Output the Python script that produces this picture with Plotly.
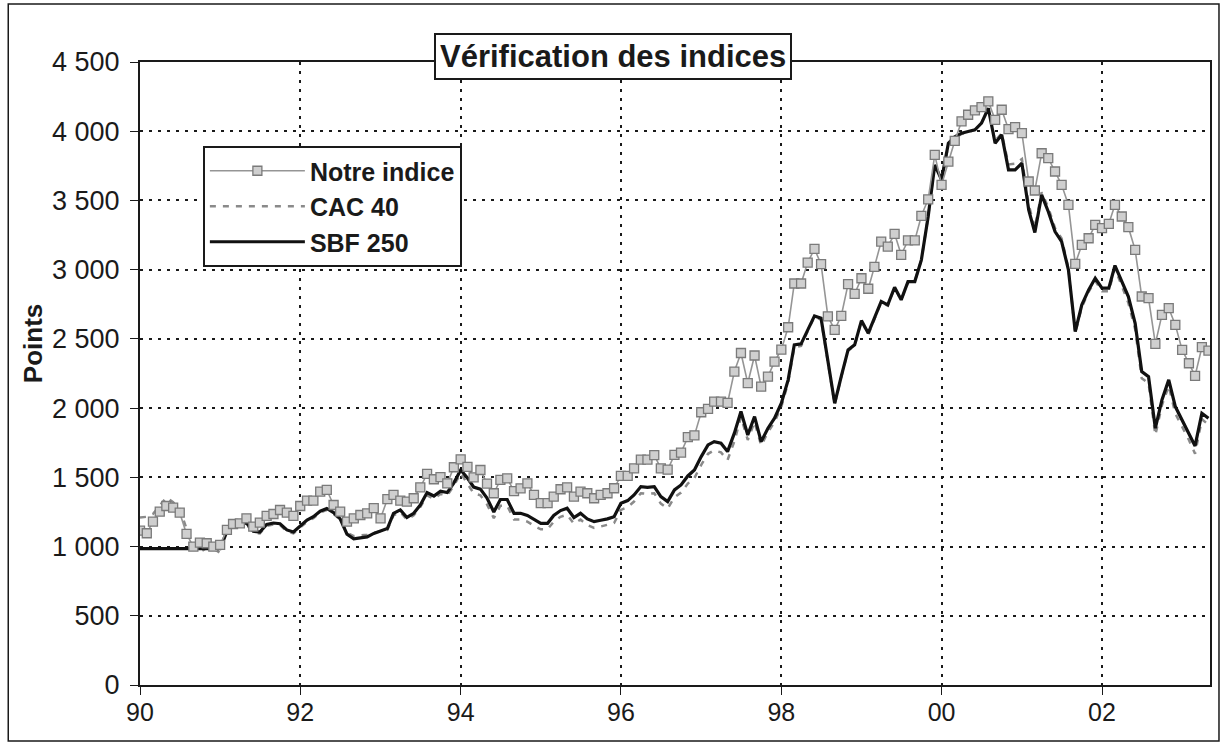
import plotly.graph_objects as go
import pandas as pd

# Monthly values, Jan 1990 .. May 2003
notre_indice = [
    1115, 1096, 1180, 1252, 1293, 1281, 1245, 1091, 999, 1028, 1024, 999, 1012,
    1120, 1163, 1168, 1204, 1144, 1173, 1221, 1235, 1264, 1245, 1221, 1293,
    1332, 1332, 1397, 1409, 1300, 1252, 1180, 1204, 1228, 1240, 1277, 1204,
    1342, 1373, 1332, 1325, 1349, 1428, 1525, 1486, 1501, 1457, 1573, 1630,
    1575, 1500, 1553, 1455, 1385, 1481, 1493, 1400, 1420, 1457, 1373, 1313,
    1313, 1361, 1414, 1428, 1361, 1397, 1385, 1349, 1373, 1385, 1421, 1510,
    1510, 1565, 1628, 1628, 1660, 1565, 1555, 1662, 1679, 1790, 1803, 1970,
    1995, 2047, 2047, 2038, 2264, 2398, 2180, 2380, 2155, 2227, 2336, 2422,
    2584, 2900, 2900, 3051, 3150, 3040, 2663, 2565, 2666, 2895, 2825, 2938,
    2862, 3020, 3203, 3167, 3259, 3107, 3211, 3211, 3389, 3508, 3829, 3613,
    3781, 3930, 4071, 4119, 4150, 4174, 4215, 4082, 4155, 4015, 4029, 3986,
    3637, 3572, 3841, 3805, 3709, 3613, 3468, 3042, 3179, 3227, 3324, 3300,
    3331, 3468, 3384, 3307, 3143, 2806, 2794, 2464, 2673, 2722, 2601, 2420,
    2324, 2233, 2440, 2415,
]

cac_40 = [
    1210, 1215, 1235, 1300, 1355, 1320, 1270, 1130, 1000, 960, 990, 985, 955,
    1095, 1140, 1150, 1160, 1100, 1095, 1150, 1160, 1155, 1110, 1095, 1140,
    1180, 1205, 1245, 1265, 1235, 1195, 1100, 1075, 1080, 1085, 1100, 1110,
    1120, 1225, 1250, 1195, 1225, 1285, 1370, 1345, 1380, 1370, 1440, 1530,
    1455, 1385, 1370, 1305, 1205, 1295, 1295, 1195, 1195, 1180, 1150, 1125,
    1125, 1180, 1215, 1230, 1165, 1195, 1155, 1135, 1145, 1155, 1170, 1265,
    1285, 1325, 1385, 1380, 1385, 1310, 1275, 1355, 1390, 1455, 1495, 1590,
    1670, 1695, 1680, 1625, 1760, 1935, 1770, 1900, 1730, 1825, 1900, 2010,
    2185, 2440, 2450, 2555, 2660, 2640, 2330, 2025, 2225, 2415, 2450, 2630,
    2530, 2645, 2765, 2740, 2870, 2780, 2910, 2915, 3070, 3385, 3760, 3650,
    3900, 3950, 3980, 3995, 4010, 4060, 4160, 3930, 3985, 3760, 3765, 3800,
    3470, 3300, 3560, 3450, 3300, 3225, 3010, 2540, 2730, 2840, 2920, 2845,
    2845, 3010, 2880, 2760, 2570, 2215, 2180, 1805, 2020, 2160, 1960, 1870,
    1770, 1670, 1920, 1880,
]

sbf_250 = [
    985, 985, 985, 985, 985, 985, 985, 985, 985, 985, 985, 985, 985,
    1110, 1150, 1160, 1170, 1110, 1105, 1160, 1170, 1165, 1120, 1105, 1150,
    1192, 1216, 1255, 1275, 1245, 1200, 1090, 1055, 1060, 1070, 1095, 1115,
    1130, 1240, 1265, 1210, 1240, 1300, 1390, 1365, 1400, 1390, 1460, 1553,
    1495, 1430, 1415, 1350, 1250, 1340, 1340, 1240, 1240, 1225, 1195, 1168,
    1168, 1225, 1260, 1277, 1210, 1240, 1200, 1180, 1190, 1200, 1216, 1313,
    1332, 1373, 1433, 1428, 1433, 1361, 1325, 1409, 1445, 1510, 1553, 1650,
    1734, 1758, 1746, 1686, 1819, 1975, 1806, 1939, 1758, 1855, 1927, 2035,
    2204, 2457, 2464, 2565, 2666, 2649, 2340, 2035, 2230, 2420, 2457, 2632,
    2541, 2650, 2770, 2746, 2873, 2782, 2914, 2914, 3071, 3384, 3757, 3649,
    3913, 3960, 3986, 3998, 4010, 4058, 4166, 3913, 3974, 3721, 3721, 3769,
    3432, 3268, 3540, 3420, 3275, 3203, 2998, 2553, 2746, 2854, 2938, 2866,
    2866, 3030, 2914, 2806, 2613, 2264, 2227, 1855, 2059, 2204, 2011, 1915,
    1819, 1727, 1963, 1927,
]

start_month = "1990-01-01"
x_tick_years = [1990, 1992, 1994, 1996, 1998, 2000, 2002]
x_tick_labels = ["90", "92", "94", "96", "98", "00", "02"]
y_tick_values = [0, 500, 1000, 1500, 2000, 2500, 3000, 3500, 4000, 4500]
y_tick_labels = ["0", "500", "1 000", "1 500", "2 000", "2 500", "3 000", "3 500", "4 000", "4 500"]

dates = pd.date_range(start_month, periods=len(notre_indice), freq="MS")

W, H = 1224, 746
L, R, T, B = 140, 12, 62, 61
FONT = "Liberation Sans, Arial, sans-serif"
INK = "#1a1a1a"

fig = go.Figure()
fig.add_trace(go.Scatter(
    x=dates, y=cac_40, name="CAC 40", mode="lines", legendrank=2,
    line=dict(color="#8a8a8a", width=2.5, dash="6px,7px"),
))
fig.add_trace(go.Scatter(
    x=dates, y=sbf_250, name="SBF 250", mode="lines", legendrank=3,
    line=dict(color="#111111", width=3.2),
))
fig.add_trace(go.Scatter(
    x=dates, y=notre_indice, name="Notre indice", mode="lines+markers", legendrank=1,
    line=dict(color="#959595", width=1.6),
    marker=dict(symbol="square", size=9, color="#cfcfcf", line=dict(color="#7a7a7a", width=1.3)),
))

def px_x(p):
    return (p - L) / (W - L - R)

def px_y(p):
    return (H - B - p) / (H - T - B)

fig.update_layout(
    width=W, height=H,
    margin=dict(l=L, r=R, t=T, b=B),
    paper_bgcolor="white", plot_bgcolor="white",
    font=dict(family=FONT, color=INK),
    showlegend=True,
    legend=dict(
        x=px_x(203), y=px_y(146), xanchor="left", yanchor="top",
        bgcolor="white", bordercolor=INK, borderwidth=2,
        font=dict(family=FONT, size=25, color=INK, weight="bold"),
        itemwidth=95, tracegroupgap=0,
    ),
    xaxis=dict(
        type="date",
        range=["1990-01-01", "2003-05-08"],
        tickvals=[f"{y}-01-01" for y in x_tick_years],
        ticktext=x_tick_labels,
        ticks="outside", ticklen=8, tickcolor=INK, tickwidth=1,
        showline=True, linecolor=INK, linewidth=2, mirror=True,
        showgrid=True, gridcolor=INK, gridwidth=1.5, griddash="3px,6px",
        tickfont=dict(family=FONT, size=25),
        ticklabelstandoff=-4,
        zeroline=False,
    ),
    yaxis=dict(
        range=[0, 4500],
        tickvals=y_tick_values, ticktext=y_tick_labels,
        ticks="outside", ticklen=8, tickcolor=INK, tickwidth=1,
        showline=True, linecolor=INK, linewidth=2, mirror=True,
        showgrid=True, gridcolor=INK, gridwidth=1.5, griddash="3px,6px",
        tickfont=dict(family=FONT, size=27),
        ticklabelstandoff=5,
        zeroline=False,
    ),
    annotations=[
        dict(
            text="<b>Vérification des indices</b>",
            xref="paper", yref="paper", x=px_x(614), y=px_y(57),
            xanchor="center", yanchor="middle", showarrow=False,
            font=dict(family=FONT, size=31, color=INK),
            bgcolor="white", bordercolor=INK, borderwidth=2, borderpad=4,
        ),
        dict(
            text="<b>Points</b>",
            xref="paper", yref="paper", x=px_x(33), y=px_y(344),
            xanchor="center", yanchor="middle", showarrow=False, textangle=-90,
            font=dict(family=FONT, size=26, color=INK),
        ),
    ],
    shapes=[dict(
        type="rect", xref="paper", yref="paper",
        x0=px_x(8), x1=px_x(1221), y0=px_y(741), y1=px_y(4),
        line=dict(color=INK, width=1.5), layer="below",
    )],
)

fig.write_html(
    "out.html",
    config={"displayModeBar": False},
    post_script="document.body.style.margin='0';document.body.style.overflow='hidden';",
)
